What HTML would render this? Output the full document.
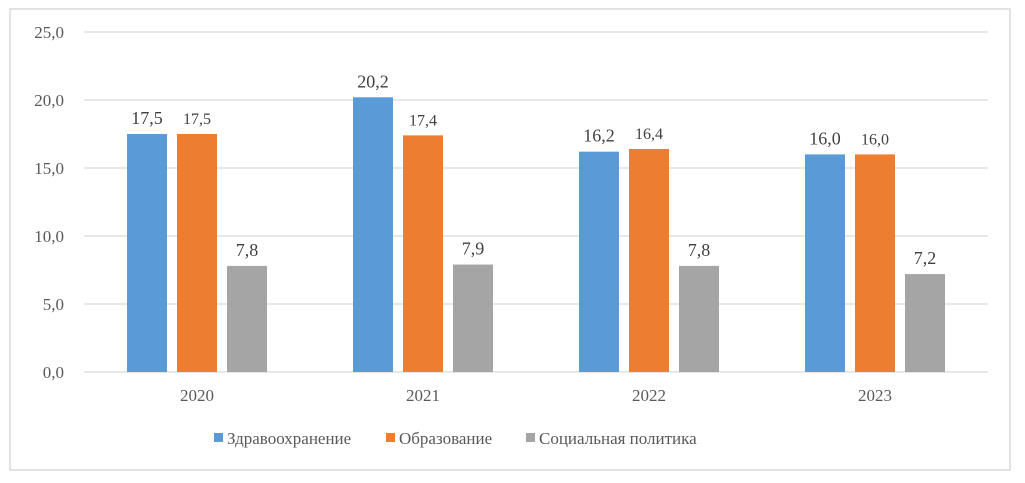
<!DOCTYPE html>
<html><head><meta charset="utf-8"><style>
body{margin:0;background:#fff;}
svg text{font-family:"Liberation Serif",serif;}
</style></head><body>
<svg width="1025" height="478">
<rect x="10" y="9" width="1000" height="461" fill="#fff" stroke="#d9d9d9" stroke-width="1.5"/>
<g id="grid"></g><g id="bars"></g><g id="labels"></g>
<g font-size="17" fill="#595959">
<rect x="214" y="433" width="9" height="9" fill="#5b9bd5"/>
<text x="227" y="444" fill="#595959">Здравоохранение</text>
<rect x="386" y="433" width="9" height="9" fill="#ed7d31"/>
<text x="399" y="444" fill="#595959">Образование</text>
<rect x="526" y="433" width="9" height="9" fill="#a5a5a5"/>
<text x="539" y="444" fill="#595959">Социальная политика</text>
</g>
</svg>
<script>
const categories=["2020","2021","2022","2023"];
const health=[17.5,20.2,16.2,16.0];
const education=[17.5,17.4,16.4,16.0];
const social=[7.8,7.9,7.8,7.2];
const yTicks=[0,5,10,15,20,25];
const series=[{n:"health",d:health,c:"#5b9bd5",fs:18},{n:"education",d:education,c:"#ed7d31",fs:16},{n:"social",d:social,c:"#a5a5a5",fs:18}];
const NS="http://www.w3.org/2000/svg";
const x0=84,x1=988,yb=372,yt=32,ymax=25;
const y=v=>yb-(v/ymax)*(yb-yt);
const cw=(x1-x0)/categories.length;
const cx=i=>x0+cw*(i+0.5);
function mk(t,a,p){const e=document.createElementNS(NS,t);for(const k in a)e.setAttribute(k,a[k]);p.appendChild(e);return e;}
const g=document.getElementById('grid'),b=document.getElementById('bars'),l=document.getElementById('labels');
yTicks.forEach(v=>{
 const ln=mk('line',{x1:x0,x2:x1,y1:y(v),y2:y(v),stroke:'#d9d9d9','stroke-width':1.3},g);
 
 
 const t=mk('text',{x:64,y:y(v)+6,'text-anchor':'end','font-size':17,fill:'#595959'},g);
 t.textContent=v.toFixed(1).replace('.',',');
 
 
});
categories.forEach((c,i)=>{
 const t=mk('text',{x:cx(i),y:401,'text-anchor':'middle','font-size':17,fill:'#595959'},l);
 t.textContent=c;
 
 
 series.forEach((s,j)=>{
  const bx=cx(i)-70+j*50;
  const r=mk('rect',{x:bx,y:y(s.d[i]),width:40,height:yb-y(s.d[i]),fill:s.c},b);
  
  
  const vt=mk('text',{x:bx+20,y:y(s.d[i])-10,'text-anchor':'middle','font-size':s.fs,fill:'#404040'},l);
  vt.textContent=s.d[i].toFixed(1).replace('.',',');
  
  
 });
});
</script>
</body></html>
